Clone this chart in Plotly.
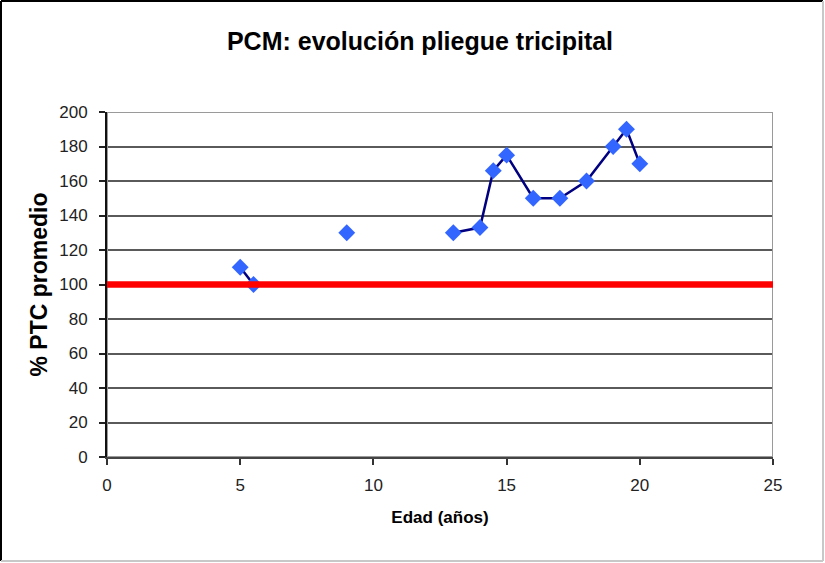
import plotly.graph_objects as go

# Data
edad = [5, 5.5, None, 9, None, 13, 14, 14.5, 15, 16, 17, 18, 19, 19.5, 20]
ptc = [110, 100, None, 130, None, 130, 133, 166, 175, 150, 150, 160, 180, 190, 170]
ref_x = [0, 25]
ref_y = [100, 100]
x_ticks = [0, 5, 10, 15, 20, 25]
y_ticks = [0, 20, 40, 60, 80, 100, 120, 140, 160, 180, 200]

W, H = 825, 563
ML, MR, MT, MB = 107, 52, 112, 106
PW, PH = W - ML - MR, H - MT - MB

FONT = "Arial, Liberation Sans, sans-serif"

fig = go.Figure()
fig.add_trace(go.Scatter(
    x=edad, y=ptc, mode="lines+markers", connectgaps=False,
    line=dict(color="#000080", width=2.5),
    marker=dict(symbol="diamond", size=13, color="#3366FF"),
    showlegend=False, cliponaxis=False,
))
fig.add_trace(go.Scatter(
    x=ref_x, y=ref_y, mode="lines",
    line=dict(color="#FF0000", width=6.5),
    showlegend=False,
))

def px_x(p):
    return (p - ML) / PW

def px_y(p):
    return 1 - (p - MT) / PH

shapes = [
    # plot area border (top/right grey)
    dict(type="rect", xref="x", yref="y", x0=0, x1=25, y0=0, y1=200,
         line=dict(color="#9A9A9A", width=2), layer="between"),
    # outer chart border
    dict(type="line", xref="paper", yref="paper", x0=px_x(1), x1=px_x(823), y0=px_y(1), y1=px_y(1),
         line=dict(color="#000000", width=2)),
    dict(type="line", xref="paper", yref="paper", x0=px_x(1), x1=px_x(1), y0=px_y(1), y1=px_y(561),
         line=dict(color="#000000", width=2)),
    dict(type="line", xref="paper", yref="paper", x0=px_x(823), x1=px_x(823), y0=px_y(1), y1=px_y(561),
         line=dict(color="#C8C8C8", width=2)),
    dict(type="line", xref="paper", yref="paper", x0=px_x(1), x1=px_x(823), y0=px_y(561), y1=px_y(561),
         line=dict(color="#C8C8C8", width=2)),
]

fig.update_layout(
    width=W, height=H,
    margin=dict(l=ML, r=MR, t=MT, b=MB),
    paper_bgcolor="white", plot_bgcolor="white",
    font=dict(family=FONT, color="#000000"),
    title=dict(text="<b>PCM: evolución pliegue tricipital</b>", x=420 / W, xanchor="center",
               y=1 - 41 / H, yanchor="middle", font=dict(size=25, color="#000000")),
    shapes=shapes,
    xaxis=dict(
        range=[0, 25], tickvals=x_ticks, ticks="outside", ticklen=6, tickcolor="#333333",
        tickwidth=1.5, showgrid=False, zeroline=False, showline=True, linecolor="#444444",
        linewidth=2, tickfont=dict(size=17, color="#222222"), ticklabelstandoff=6,
        title=dict(text="<b>Edad (años)</b>", font=dict(size=17), standoff=17),
    ),
    yaxis=dict(
        range=[0, 200], tickvals=y_ticks, ticks="outside", ticklen=6, tickcolor="#222222",
        tickwidth=1.5, showgrid=True, gridcolor="#5A5A5A", gridwidth=1.5, zeroline=False,
        showline=True, linecolor="#111111", linewidth=2, tickfont=dict(size=17, color="#222222"),
        ticklabelstandoff=8,
        title=dict(text="<b>% PTC promedio</b>", font=dict(size=23), standoff=5),
    ),
)

fig.write_html("out.html", config={"displayModeBar": False},
               post_script="document.body.style.margin='0';")
